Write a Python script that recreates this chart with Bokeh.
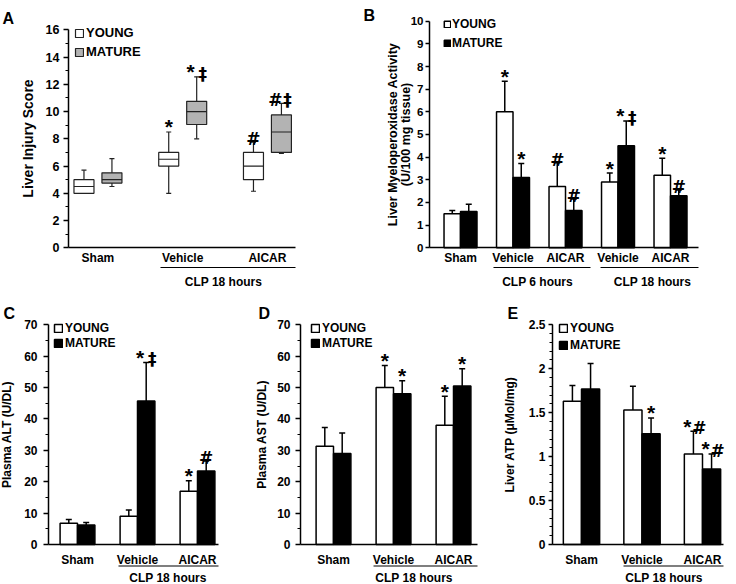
from bokeh.plotting import figure
from bokeh.models import (ColumnDataSource, Whisker, TeeHead, Legend, LegendItem,
                          LinearAxis, FixedTicker, NumeralTickFormatter, Range1d, Label)
from bokeh.layouts import row, column
from bokeh.embed import file_html
from bokeh.resources import INLINE
from bokeh.core.properties import value

FONT = "Liberation Sans"
SYM_FONT = "DejaVu Sans"

# ---------------- data ----------------
# Panel A: liver injury score (box plots)
A_GROUPS = ["Sham", "Vehicle", "AICAR"]
A_YOUNG_LOW = [4.0, 4.0, 4.15]
A_YOUNG_Q1 = [4.0, 6.0, 5.0]
A_YOUNG_MED = [4.5, 6.5, 6.0]
A_YOUNG_Q3 = [5.0, 7.0, 7.0]
A_YOUNG_HIGH = [5.7, 8.5, 7.75]
A_MATURE_LOW = [4.5, 8.0, 6.92]
A_MATURE_Q1 = [4.75, 9.05, 7.0]
A_MATURE_MED = [5.0, 10.0, 8.5]
A_MATURE_Q3 = [5.5, 10.75, 9.75]
A_MATURE_HIGH = [6.55, 12.55, 10.6]
A_YOUNG_SIG = ["", "*", "#"]
A_MATURE_SIG = ["", "*‡", "#‡"]
A_YTICKS = [0, 2, 4, 6, 8, 10, 12, 14, 16]
A_YMINOR = [1, 3, 5, 7, 9, 11, 13, 15]

# Panel B: liver myeloperoxidase activity
B_GROUPS = ["Sham", "Vehicle", "AICAR", "Vehicle", "AICAR"]
B_YOUNG = [1.5, 6.0, 2.7, 2.9, 3.2]
B_YOUNG_SEM = [0.15, 1.35, 1.05, 0.4, 0.75]
B_MATURE = [1.6, 3.1, 1.65, 4.5, 2.3]
B_MATURE_SEM = [0.32, 0.62, 0.5, 1.1, 0.25]
B_YOUNG_SIG = ["", "*", "#", "*", "*"]
B_MATURE_SIG = ["", "*", "#", "*‡", "#"]
B_YTICKS = [0, 1, 2, 3, 4, 5, 6, 7, 8, 9, 10]

# Panel C: plasma ALT
C_GROUPS = ["Sham", "Vehicle", "AICAR"]
C_YOUNG = [6.8, 9.0, 17.0]
C_YOUNG_SEM = [1.2, 2.0, 3.3]
C_MATURE = [6.2, 45.7, 23.4]
C_MATURE_SEM = [0.8, 12.3, 3.2]
C_YOUNG_SIG = ["", "", "*"]
C_MATURE_SIG = ["", "*‡", "#"]

# Panel D: plasma AST
D_GROUPS = ["Sham", "Vehicle", "AICAR"]
D_YOUNG = [31.3, 50.0, 38.0]
D_YOUNG_SEM = [6.0, 7.0, 9.2]
D_MATURE = [29.0, 48.0, 50.5]
D_MATURE_SEM = [6.5, 4.2, 5.5]
D_YOUNG_SIG = ["", "*", "*"]
D_MATURE_SIG = ["", "*", "*"]

CD_YTICKS = [0, 10, 20, 30, 40, 50, 60, 70]
CD_YMINOR = [5, 15, 25, 35, 45, 55, 65]

# Panel E: liver ATP
E_GROUPS = ["Sham", "Vehicle", "AICAR"]
E_YOUNG = [1.63, 1.53, 1.03]
E_YOUNG_SEM = [0.18, 0.27, 0.26]
E_MATURE = [1.77, 1.26, 0.86]
E_MATURE_SEM = [0.29, 0.18, 0.17]
E_YOUNG_SIG = ["", "", "*#"]
E_MATURE_SIG = ["", "*", "*#"]
E_YTICKS = [0, 0.5, 1, 1.5, 2, 2.5]
E_YMINOR = [round(0.1 * i, 1) for i in range(26)]

SERIES = ["YOUNG", "MATURE"]


# ---------------- helpers ----------------
def make_fig(W, H, xr, yr):
    p = figure(width=W, height=H, x_range=Range1d(*xr), y_range=Range1d(*yr),
               x_axis_type=None, y_axis_type=None, output_backend="svg",
               toolbar_location=None, min_border=0, title=None)
    p.outline_line_color = None
    p.background_fill_color = "white"
    p.border_fill_color = "white"
    return p


def px_to_y(p, px):
    """distance of px pixels below the zero line, in data units"""
    return -px * (p.y_range.end - p.y_range.start) / p.height


def px_to_x(p, px):
    return px * (p.x_range.end - p.x_range.start) / p.width


def add_axes(p, yx, ybounds, yticks, yminor, ylabel, xend, cats,
             tick_size="12px", label_size="12px", label_standoff=4,
             axis_label_standoff=8, cat_standoff=4, fmt=None, tick_out=5,
             label_line_height=1.2):
    ya = LinearAxis(fixed_location=yx, bounds=ybounds,
                    ticker=FixedTicker(ticks=yticks, minor_ticks=yminor),
                    axis_label=ylabel)
    ya.axis_label_text_font = FONT
    ya.axis_label_text_font_style = "bold"
    ya.axis_label_text_font_size = label_size
    ya.axis_label_text_color = "black"
    ya.axis_label_text_line_height = label_line_height
    ya.axis_label_standoff = axis_label_standoff
    ya.major_label_text_font = FONT
    ya.major_label_text_font_style = "bold"
    ya.major_label_text_font_size = tick_size
    ya.major_label_text_color = "black"
    ya.major_label_standoff = label_standoff
    ya.major_tick_in = 0
    ya.major_tick_out = tick_out
    ya.minor_tick_in = 0
    ya.minor_tick_out = 3
    ya.axis_line_width = 1.5
    ya.major_tick_line_width = 1.5
    ya.minor_tick_line_width = 1.2
    ya.axis_line_color = "black"
    ya.major_tick_line_color = "black"
    ya.minor_tick_line_color = "black"
    if fmt is not None:
        ya.formatter = fmt
    p.add_layout(ya, "left")

    xa = LinearAxis(fixed_location=0, bounds=(yx, xend),
                    ticker=FixedTicker(ticks=list(range(len(cats)))),
                    major_label_overrides={i: c for i, c in enumerate(cats)})
    xa.major_tick_in = 0
    xa.major_tick_out = 0
    xa.minor_tick_in = 0
    xa.minor_tick_out = 0
    xa.axis_line_width = 1.5
    xa.axis_line_color = "black"
    xa.major_label_standoff = cat_standoff
    xa.major_label_text_font = FONT
    xa.major_label_text_font_style = "bold"
    xa.major_label_text_font_size = "12px"
    xa.major_label_text_color = "black"
    p.add_layout(xa, "below")


def add_marks(p, xs, ys, sigs):
    """significance marks: '*' in Arial-like bold, '#' and double dagger in DejaVu bold"""
    gap = px_to_x(p, 6)
    star = dict(x=[], y=[], t=[])
    sym = dict(x=[], y=[], t=[])
    for x, y, s in zip(xs, ys, sigs):
        n = len(s)
        for k, ch in enumerate(s):
            pos = x if n == 1 else x + (gap if k else -gap)
            d = star if ch == "*" else sym
            d["x"].append(pos)
            d["y"].append(y)
            d["t"].append(ch)
    p.text(x="x", y="y", text="t", source=ColumnDataSource(star), text_align="center",
           text_baseline="alphabetic", y_offset=-5, text_font=value(FONT),
           text_font_style="bold", text_font_size="21px", text_color="black")
    p.text(x="x", y="y", text="t", source=ColumnDataSource(sym), text_align="center",
           text_baseline="alphabetic", y_offset=-3, text_font=value(SYM_FONT),
           text_font_style="bold", text_font_size="17px", text_color="black")


def add_bars(p, young, ysem, mature, msem, ysig, msig, off, width):
    n = len(young)
    xs = list(range(n))
    out = []
    for vals, sems, sig, sign, fill in ((young, ysem, ysig, -1, "white"),
                                        (mature, msem, msig, 1, "black")):
        bx = [i + sign * off for i in xs]
        up = [v + e for v, e in zip(vals, sems)]
        src = ColumnDataSource(dict(x=bx, top=vals, up=up))
        r = p.vbar(x="x", top="top", bottom=0, width=width, source=src,
                   fill_color=fill, line_color="black", line_width=1.5)
        p.add_layout(Whisker(source=src, base="x", lower="top", upper="up",
                             upper_head=TeeHead(size=6, line_width=1.5, line_color="black"),
                             lower_head=None, line_width=1.5, line_color="black"))
        add_marks(p, bx, up, sig)
        out.append(r)
    return out


def add_legend(p, renderers, loc, glyph, lh, spacing, fsize, standoff):
    leg = Legend(items=[LegendItem(label=s, renderers=[r]) for s, r in zip(SERIES, renderers)],
                 location=loc, padding=0, margin=0, spacing=spacing,
                 glyph_width=glyph, glyph_height=glyph, label_height=lh,
                 label_standoff=standoff, label_text_font=FONT,
                 label_text_font_style="bold", label_text_font_size=fsize,
                 label_text_color="black",
                 border_line_color=None, background_fill_alpha=0)
    p.add_layout(leg)


def add_bracket(p, x0, x1, line_px, text_x, text_px, label):
    yl = px_to_y(p, line_px)
    p.segment(x0=[x0], x1=[x1], y0=[yl], y1=[yl], line_color="black", line_width=1.2)
    yt = px_to_y(p, text_px)
    p.text(x=[text_x], y=[yt], text=[label], text_align="center",
           text_baseline="alphabetic", text_font=value(FONT),
           text_font_style="bold", text_font_size="12px", text_color="black")


def add_letter(p, txt, x, y):
    p.add_layout(Label(x=x, y=y, x_units="screen", y_units="screen", text=txt,
                       text_font=FONT, text_font_style="bold", text_font_size="16px",
                       text_baseline="alphabetic", text_color="black"))


# ---------------- Panel A ----------------
pA = make_fig(360, 300, (-1.150, 3.098), (-3.868, 18.150))
add_axes(pA, -0.348, (0, 16), A_YTICKS, A_YMINOR, "Liver Injury Score", 2.331, A_GROUPS,
         tick_size="12.5px", label_size="14px", label_standoff=4, axis_label_standoff=7,
         cat_standoff=3)
A_OFF, A_W = 0.165, 0.236
rA = []
for low, q1, med, q3, high, sig, sign, fill in (
        (A_YOUNG_LOW, A_YOUNG_Q1, A_YOUNG_MED, A_YOUNG_Q3, A_YOUNG_HIGH, A_YOUNG_SIG, -1, "white"),
        (A_MATURE_LOW, A_MATURE_Q1, A_MATURE_MED, A_MATURE_Q3, A_MATURE_HIGH, A_MATURE_SIG, 1, "#b3b3b3")):
    xs = [i + sign * A_OFF for i in range(len(A_GROUPS))]
    src = ColumnDataSource(dict(x=xs, low=low, q1=q1, med=med, q3=q3, high=high,
                                xl=[x - A_W / 2 for x in xs], xr=[x + A_W / 2 for x in xs]))
    pA.add_layout(Whisker(source=src, base="x", lower="low", upper="high", level="underlay",
                          upper_head=TeeHead(size=5, line_width=1.2, line_color="#222222"),
                          lower_head=TeeHead(size=5, line_width=1.2, line_color="#222222"),
                          line_width=1.2, line_color="#222222"))
    r = pA.vbar(x="x", top="q3", bottom="q1", width=A_W, source=src, fill_color=fill,
                line_color="#222222", line_width=1.2)
    pA.segment(x0="xl", x1="xr", y0="med", y1="med", source=src, line_color="#222222", line_width=1.2)
    add_marks(pA, xs, high, sig)
    rA.append(r)
add_legend(pA, rA, (74, 241), 10, 15, 4, "13px", 2)
add_bracket(pA, 0.738, 2.331, 19.7, 1.481, 34.4, "CLP 18 hours")
add_letter(pA, "A", 2, 282)

# ---------------- Panel B ----------------
pB = make_fig(376, 300, (-1.905, 5.257), (-2.3257, 10.9135))
add_axes(pB, -0.591, (0, 10), B_YTICKS, [], "Liver Myeloperoxidase Activity\n(U/100 mg tissue)",
         4.533, B_GROUPS, tick_size="11.5px", label_size="12.5px", label_standoff=2,
         axis_label_standoff=-5, cat_standoff=3, tick_out=4, label_line_height=0.9)
rB = add_bars(pB, B_YOUNG, B_YOUNG_SEM, B_MATURE, B_MATURE_SEM, B_YOUNG_SIG, B_MATURE_SIG, 0.157, 0.314)
add_legend(pB, rB, (83, 250), 8, 15, 4, "12px", 1)
add_bracket(pB, 0.628, 2.476, 19.7, 1.467, 34.4, "CLP 6 hours")
add_bracket(pB, 2.667, 4.533, 19.7, 3.657, 34.4, "CLP 18 hours")
add_letter(pB, "B", 3, 285)

# ---------------- Panel C ----------------
pC = make_fig(245, 284, (-1.2833, 2.8), (-12.745, 77.742))
add_axes(pC, -0.483, (0, 70), CD_YTICKS, CD_YMINOR, "Plasma ALT (U/DL)", 2.35, C_GROUPS,
         label_standoff=6, axis_label_standoff=7, cat_standoff=9)
rC = add_bars(pC, C_YOUNG, C_YOUNG_SEM, C_MATURE, C_MATURE_SEM, C_YOUNG_SIG, C_MATURE_SIG, 0.145, 0.29)
add_legend(pC, rC, (53, 234), 10, 14, 1, "12px", 2)
add_bracket(pC, 0.683, 2.35, 21.5, 1.508, 34.0, "CLP 18 hours")
add_letter(pC, "C", 3, 271)

# ---------------- Panel D ----------------
pD = make_fig(245, 284, (-1.4667, 2.6167), (-12.745, 77.742))
add_axes(pD, -0.55, (0, 70), CD_YTICKS, CD_YMINOR, "Plasma AST (U/DL)", 2.4, D_GROUPS,
         label_standoff=5, axis_label_standoff=5, cat_standoff=9)
rD = add_bars(pD, D_YOUNG, D_YOUNG_SEM, D_MATURE, D_MATURE_SEM, D_YOUNG_SIG, D_MATURE_SIG, 0.145, 0.29)
add_legend(pD, rD, (65, 234), 10, 14, 1, "12px", 2)
add_bracket(pD, 0.667, 2.4, 21.5, 1.342, 34.0, "CLP 18 hours")
add_letter(pD, "D", 13, 271)

# ---------------- Panel E ----------------
pE = make_fig(246, 284, (-1.504, 2.562), (-0.4552, 2.7765))
add_axes(pE, -0.479, (0, 2.5), E_YTICKS, E_YMINOR, "Liver ATP (μMol/mg)", 2.347, E_GROUPS,
         label_standoff=3, axis_label_standoff=9, cat_standoff=9, tick_out=4,
         fmt=NumeralTickFormatter(format="0.[0]"))
rE = add_bars(pE, E_YOUNG, E_YOUNG_SEM, E_MATURE, E_MATURE_SEM, E_YOUNG_SIG, E_MATURE_SIG, 0.15, 0.30)
add_legend(pE, rE, (68, 232), 10, 14, 3, "12px", 2)
add_bracket(pE, 0.694, 2.347, 21.5, 1.364, 34.0, "CLP 18 hours")
add_letter(pE, "E", 17, 271)

layout = column(row(pA, pB), row(pC, pD, pE))
open("out.html", "w").write(file_html(layout, INLINE))
